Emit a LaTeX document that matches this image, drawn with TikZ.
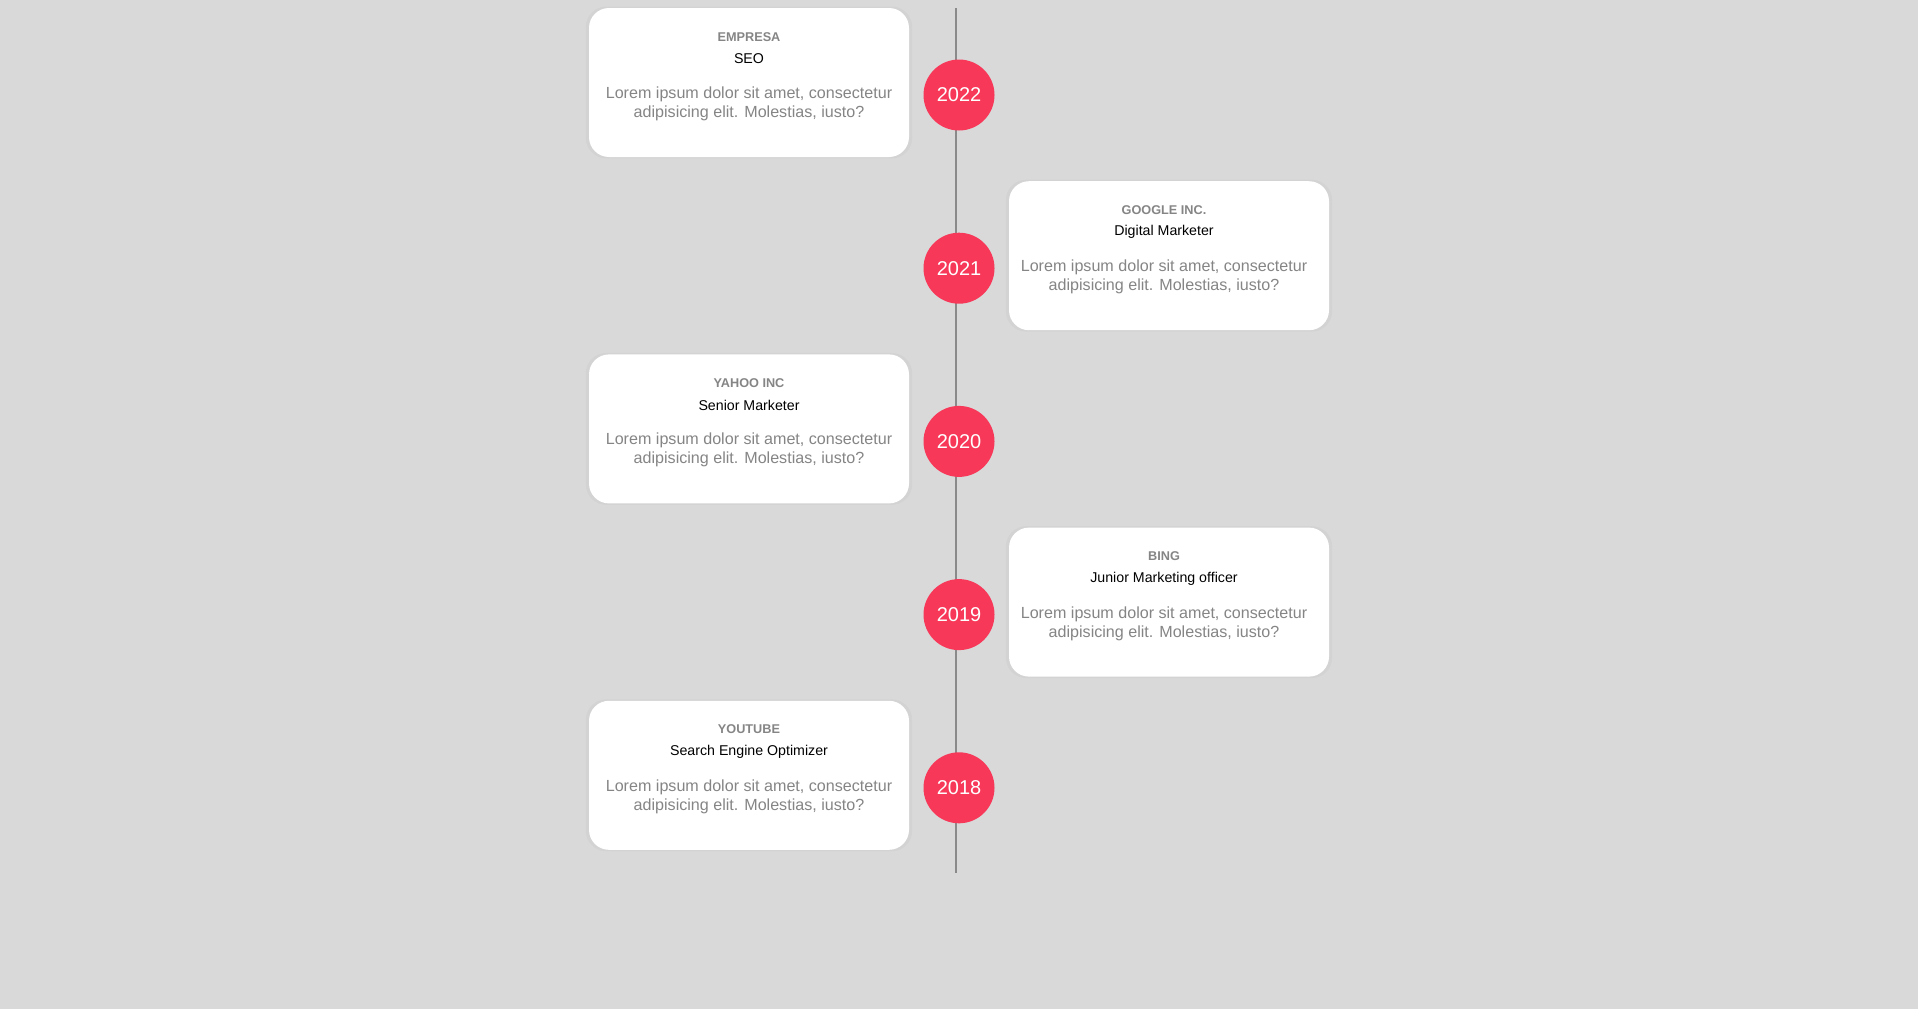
\documentclass[tikz,border=0pt]{standalone}
\usepackage{fontspec}
\setmainfont{Liberation Sans}
\usepackage{tikz}
\usetikzlibrary{positioning,shadows}
\definecolor{pagebg}{HTML}{D9D9D9}
\definecolor{yearred}{HTML}{F73859}
\definecolor{softgrey}{HTML}{858585}
\definecolor{axisgrey}{HTML}{8A8A8A}

\begin{document}
\begin{tikzpicture}[
        x=1pt, y=-1pt,
        card/.style={fill=white, rounded corners=20pt, minimum width=320pt, minimum height=149pt, inner sep=0pt,
            general shadow={fill=black, opacity=0.025, shadow scale=1.02}},
        yearbadge/.style={circle, fill=yearred, minimum size=71pt, inner sep=0pt, text=white, font=\fontsize{20}{24}\selectfont},
        company/.style={inner sep=0pt, text=softgrey, font=\fontsize{12.7}{15}\selectfont\bfseries},
        role/.style={inner sep=0pt, text=black, font=\fontsize{14.2}{17}\selectfont},
        blurb/.style={inner sep=0pt, text=softgrey, align=center, font=\fontsize{16.1}{19}\selectfont},
        axis/.style={draw=axisgrey, line width=2.5pt}
    ]

    % Page background
    \fill[pagebg] (0,0) rectangle (1918,1009);

    % Vertical time axis
    \coordinate (axistop) at (956,8);
    \coordinate (axisbottom) at (956,873);
    \draw[axis] (axistop) -- (axisbottom);

    % Year badges on the axis
    \node[yearbadge] (y2022) at (959,95) {2022};
    \node[yearbadge] (y2021) at (959,268.2) {2021};
    \node[yearbadge] (y2020) at (959,441.4) {2020};
    \node[yearbadge] (y2019) at (959,614.6) {2019};
    \node[yearbadge] (y2018) at (959,787.8) {2018};

    % Cards, alternating left and right
    \node[card] (empresa) at (749,82.5) {};
    \node[card] (google) at (1169,255.7) {};
    \node[card] (yahoo) at (749,428.9) {};
    \node[card] (bing) at (1169,602.1) {};
    \node[card] (youtube) at (749,775.3) {};

    % Card texts (right-hand cards sit a little left of centre)
    \node[company] (empresa-name) at ([yshift=-29pt]empresa.north) {EMPRESA};
    \node[role] (empresa-role) at ([yshift=-51pt]empresa.north) {SEO};
    \node[blurb] (empresa-text) at ([yshift=-96pt]empresa.north) {Lorem ipsum dolor sit amet, consectetur\\adipisicing elit. Molestias, iusto?};

    \node[company] (google-name) at ([xshift=-5pt,yshift=-29pt]google.north) {GOOGLE INC.};
    \node[role] (google-role) at ([xshift=-5pt,yshift=-51pt]google.north) {Digital Marketer};
    \node[blurb] (google-text) at ([xshift=-5pt,yshift=-96pt]google.north) {Lorem ipsum dolor sit amet, consectetur\\adipisicing elit. Molestias, iusto?};

    \node[company] (yahoo-name) at ([yshift=-29pt]yahoo.north) {YAHOO INC};
    \node[role] (yahoo-role) at ([yshift=-51pt]yahoo.north) {Senior Marketer};
    \node[blurb] (yahoo-text) at ([yshift=-96pt]yahoo.north) {Lorem ipsum dolor sit amet, consectetur\\adipisicing elit. Molestias, iusto?};

    \node[company] (bing-name) at ([xshift=-5pt,yshift=-29pt]bing.north) {BING};
    \node[role] (bing-role) at ([xshift=-5pt,yshift=-51pt]bing.north) {Junior Marketing officer};
    \node[blurb] (bing-text) at ([xshift=-5pt,yshift=-96pt]bing.north) {Lorem ipsum dolor sit amet, consectetur\\adipisicing elit. Molestias, iusto?};

    \node[company] (youtube-name) at ([yshift=-29pt]youtube.north) {YOUTUBE};
    \node[role] (youtube-role) at ([yshift=-51pt]youtube.north) {Search Engine Optimizer};
    \node[blurb] (youtube-text) at ([yshift=-96pt]youtube.north) {Lorem ipsum dolor sit amet, consectetur\\adipisicing elit. Molestias, iusto?};

\end{tikzpicture}
\end{document}
